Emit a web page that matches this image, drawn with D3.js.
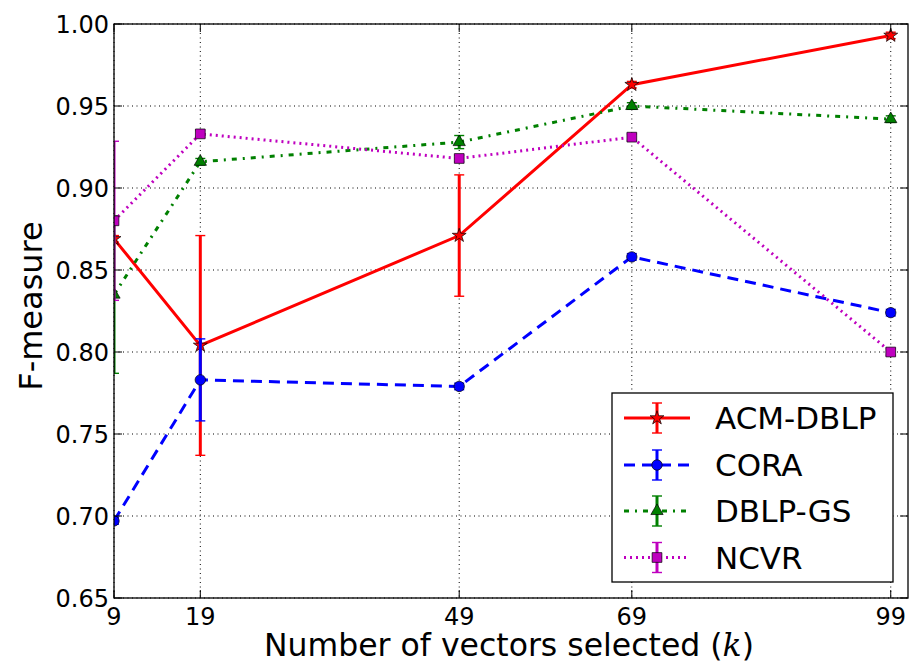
<!DOCTYPE html>
<html>
<head>
<meta charset="utf-8">
<script src="https://cdn.jsdelivr.net/npm/d3@7/dist/d3.min.js"></script>
<style>
  html, body { margin: 0; padding: 0; background: #fff; }
  svg { display: block; font-family: "DejaVu Sans", sans-serif; }
</style>
</head>
<body>
<svg id="chart" width="913" height="663"></svg>
<script>
// Number of vectors selected (k)
const kValues = [9, 19, 49, 69, 99];
const xTickLabels = ["9", "19", "49", "69", "99"];
const yTicks = [0.65, 0.70, 0.75, 0.80, 0.85, 0.90, 0.95, 1.00];

// F-measure per dataset, with error half-widths
const acmDblp = [0.869, 0.804, 0.871, 0.963, 0.993];
const acmDblpErr = [0.002, 0.067, 0.037, 0.002, 0.002];
const cora = [0.697, 0.783, 0.779, 0.858, 0.824];
const coraErr = [0.002, 0.025, 0.002, 0.002, 0.002];
const dblpGs = [0.835, 0.916, 0.928, 0.950, 0.942];
const dblpGsErr = [0.048, 0.002, 0.004, 0.002, 0.002];
const ncvr = [0.880, 0.933, 0.918, 0.931, 0.800];
const ncvrErr = [0.0485, 0.002, 0.002, 0.002, 0.002];

const seriesNames = ["ACM-DBLP", "CORA", "DBLP-GS", "NCVR"];

const series = [
  { name: seriesNames[0], values: acmDblp, errors: acmDblpErr, color: "#ff0000", dash: null, marker: d3.symbolStar, size: 60 },
  { name: seriesNames[1], values: cora, errors: coraErr, color: "#0000ff", dash: "11,7", marker: d3.symbolCircle, size: 85 },
  { name: seriesNames[2], values: dblpGs, errors: dblpGsErr, color: "#008000", dash: "5,6,2,6", marker: d3.symbolTriangle, size: 65 },
  { name: seriesNames[3], values: ncvr, errors: ncvrErr, color: "#bf00bf", dash: "2,4", marker: d3.symbolSquare, size: 95 }
];

const svg = d3.select("#chart");
const plotL = 114, plotR = 908, plotT = 24, plotB = 598;

const x = d3.scaleLinear().domain([9, 101]).range([plotL, plotR]);
const y = d3.scaleLinear().domain([0.65, 1.00]).range([plotB, plotT]);

// clip region for data marks
svg.append("defs").append("clipPath").attr("id", "plot-clip")
  .append("rect").attr("x", plotL).attr("y", plotT)
  .attr("width", plotR - plotL).attr("height", plotB - plotT);

// grid lines
const grid = svg.append("g");
grid.selectAll("line.gx").data(kValues).join("line")
  .attr("x1", d => x(d)).attr("x2", d => x(d))
  .attr("y1", plotT).attr("y2", plotB)
  .attr("stroke", "#000").attr("stroke-width", 1).attr("stroke-dasharray", "1,3.5");
grid.selectAll("line.gy").data(yTicks).join("line")
  .attr("x1", plotL).attr("x2", plotR)
  .attr("y1", d => y(d)).attr("y2", d => y(d))
  .attr("stroke", "#000").attr("stroke-width", 1).attr("stroke-dasharray", "1,3.5");

// data
const plot = svg.append("g").attr("clip-path", "url(#plot-clip)");
const line = d3.line().x((d, i) => x(kValues[i])).y(d => y(d));

series.forEach(s => {
  const g = plot.append("g");
  // error bars
  s.values.forEach((v, i) => {
    const cx = x(kValues[i]);
    const y1 = y(v + s.errors[i]), y2 = y(v - s.errors[i]);
    g.append("line").attr("x1", cx).attr("x2", cx).attr("y1", y1).attr("y2", y2)
      .attr("stroke", s.color).attr("stroke-width", 3);
    [y1, y2].forEach(cy => g.append("line")
      .attr("x1", cx - 5).attr("x2", cx + 5).attr("y1", cy).attr("y2", cy)
      .attr("stroke", s.color).attr("stroke-width", 1.4));
  });
  g.append("path").datum(s.values).attr("d", line)
    .attr("fill", "none").attr("stroke", s.color).attr("stroke-width", 3)
    .attr("stroke-dasharray", s.dash);
  g.selectAll("path.m").data(s.values).join("path")
    .attr("transform", (d, i) => `translate(${x(kValues[i])},${y(d)})`)
    .attr("d", d3.symbol().type(s.marker).size(s.size))
    .attr("fill", s.color).attr("stroke", "#000").attr("stroke-width", 0.7);
});

// axes frame with inward ticks
const axes = svg.append("g").attr("fill", "none").attr("stroke", "#000");
axes.append("rect").attr("x", plotL).attr("y", plotT)
  .attr("width", plotR - plotL).attr("height", plotB - plotT).attr("stroke-width", 1.3);
kValues.forEach(k => {
  axes.append("line").attr("x1", x(k)).attr("x2", x(k)).attr("y1", plotB).attr("y2", plotB - 8);
  axes.append("line").attr("x1", x(k)).attr("x2", x(k)).attr("y1", plotT).attr("y2", plotT + 8);
});
yTicks.forEach(t => {
  axes.append("line").attr("x1", plotL).attr("x2", plotL + 8).attr("y1", y(t)).attr("y2", y(t));
  axes.append("line").attr("x1", plotR).attr("x2", plotR - 8).attr("y1", y(t)).attr("y2", y(t));
});

// tick labels
svg.append("g").selectAll("text").data(kValues).join("text")
  .attr("x", d => x(d)).attr("y", 625)
  .attr("text-anchor", "middle").attr("font-size", 24)
  .text((d, i) => xTickLabels[i]);
svg.append("g").selectAll("text").data(yTicks).join("text")
  .attr("x", 109).attr("y", d => y(d)).attr("dy", "0.36em")
  .attr("text-anchor", "end").attr("font-size", 24)
  .text(d => d.toFixed(2));

// axis titles
const xt = svg.append("text").attr("x", 509).attr("y", 656)
  .attr("text-anchor", "middle").attr("font-size", 31.5);
xt.append("tspan").text("Number of vectors selected (");
xt.append("tspan").attr("font-family", "'DejaVu Serif', serif").attr("font-style", "italic").text("k");
xt.append("tspan").text(")");

svg.append("text").attr("transform", "translate(42,306) rotate(-90)")
  .attr("text-anchor", "middle").attr("font-size", 32).text("F-measure");

// legend
const lg = svg.append("g");
lg.append("rect").attr("x", 612).attr("y", 393).attr("width", 281).attr("height", 189)
  .attr("fill", "#fff").attr("stroke", "#000").attr("stroke-width", 1.3);
const rowY = [418, 465, 511, 557.5];
series.forEach((s, i) => {
  const cy = rowY[i];
  lg.append("line").attr("x1", 624).attr("x2", 690).attr("y1", cy).attr("y2", cy)
    .attr("stroke", s.color).attr("stroke-width", 3).attr("stroke-dasharray", s.dash);
  lg.append("line").attr("x1", 657).attr("x2", 657).attr("y1", cy - 15).attr("y2", cy + 15)
    .attr("stroke", s.color).attr("stroke-width", 3);
  [cy - 15, cy + 15].forEach(c => lg.append("line")
    .attr("x1", 652).attr("x2", 662).attr("y1", c).attr("y2", c)
    .attr("stroke", s.color).attr("stroke-width", 1.4));
  lg.append("path").attr("transform", `translate(657,${cy})`)
    .attr("d", d3.symbol().type(s.marker).size(s.size))
    .attr("fill", s.color).attr("stroke", "#000").attr("stroke-width", 0.7);
  lg.append("text").attr("x", 715).attr("y", cy).attr("dy", "0.36em")
    .attr("font-size", 31).text(s.name);
});
</script>
</body>
</html>
